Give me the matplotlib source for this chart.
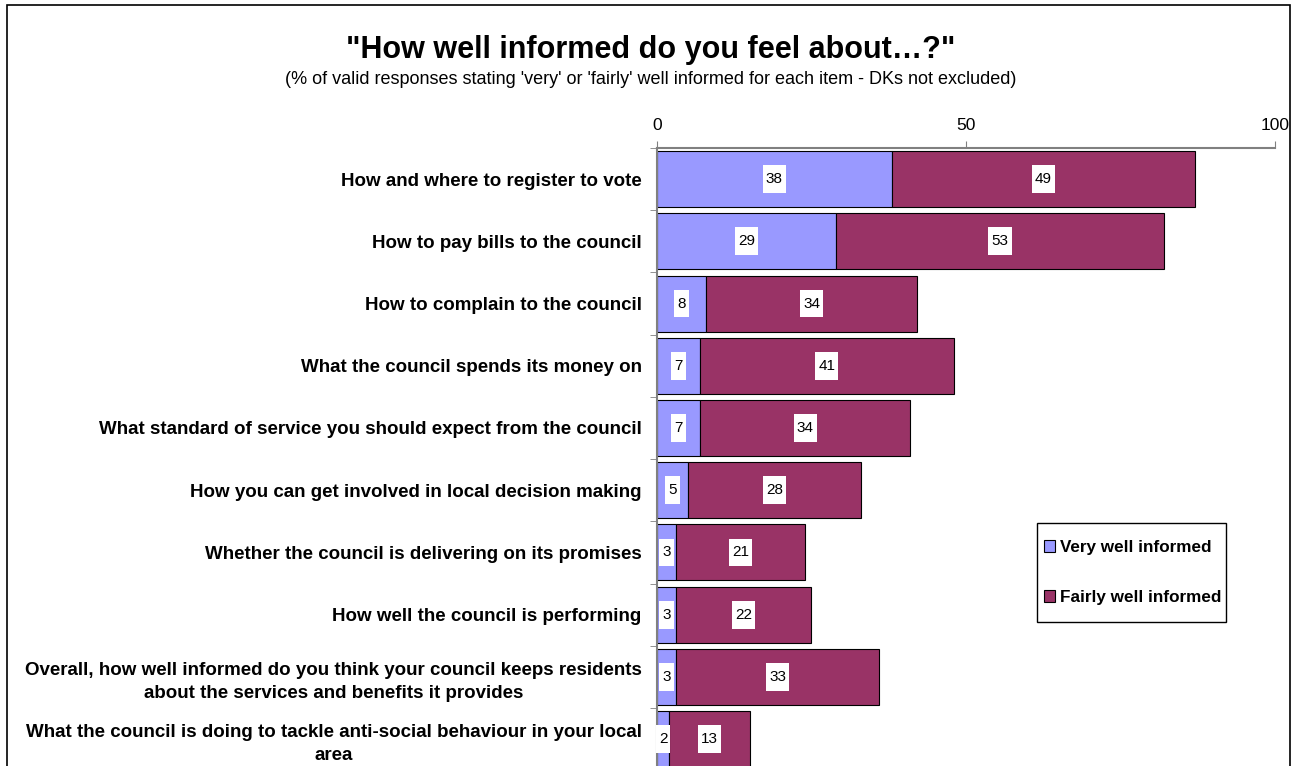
import matplotlib.pyplot as plt
from matplotlib.patches import Rectangle
from matplotlib.path import Path

plt.rcParams['font.family'] = ['Liberation Sans', 'DejaVu Sans']

# Survey items, top to bottom
items = [
    "How and where to register to vote",
    "How to pay bills to the council",
    "How to complain to the council",
    "What the council spends its money on",
    "What standard of service you should expect from the council",
    "How you can get involved in local decision making",
    "Whether the council is delivering on its promises",
    "How well the council is performing",
    "Overall, how well informed do you think your council keeps residents\nabout the services and benefits it provides",
    "What the council is doing to tackle anti-social behaviour in your local\narea",
]
very_well = [38, 29, 8, 7, 7, 5, 3, 3, 3, 2]
fairly_well = [49, 53, 34, 41, 34, 28, 21, 22, 33, 13]
x_ticks = [0, 50, 100]

c_very = '#9999FF'
c_fairly = '#993366'


def tall_box(x0, y0, width, height, mutation_size):
    # narrow sideways padding, tall vertical padding
    px = 0.2 * mutation_size
    py = 0.45 * mutation_size
    x0, y0 = x0 - px, y0 - py
    x1, y1 = x0 + width + 2 * px, y0 + height + 2 * py
    return Path([(x0, y0), (x1, y0), (x1, y1), (x0, y1), (x0, y0)], closed=True)


fig = plt.figure(figsize=(12.93, 7.66), dpi=100)
ax = fig.add_axes([0.5081, -0.0055, 0.478, 0.8123])

ypos = list(range(len(items)))
b1 = ax.barh(ypos, very_well, height=0.9, color=c_very, edgecolor='black',
             linewidth=0.8, label='Very well informed')
b2 = ax.barh(ypos, fairly_well, left=very_well, height=0.9, color=c_fairly,
             edgecolor='black', linewidth=0.8, label='Fairly well informed')

# value labels in white boxes
for vals, lefts in [(very_well, [0] * len(very_well)), (fairly_well, very_well)]:
    for y, v, l in zip(ypos, vals, lefts):
        ax.text(l + v / 2, y, str(v), ha='center', va='center', fontsize=11,
                bbox=dict(boxstyle=tall_box, facecolor='white', edgecolor='none'))

ax.set_xlim(0, 100)
ax.set_ylim(len(items) - 0.5, -0.5)
ax.xaxis.tick_top()
ax.set_xticks(x_ticks)
ax.tick_params(axis='x', labelsize=12.5, length=5, color='#808080', pad=6)
ax.set_yticks(ypos)
ax.set_yticklabels(items, fontsize=13.5, fontweight='bold',
                   multialignment='center', linespacing=1.45)
ax.tick_params(axis='y', length=0, pad=11)
# category separator ticks on the left spine
ax.set_yticks([i - 0.5 for i in range(len(items) + 1)], minor=True)
ax.tick_params(axis='y', which='minor', length=5, color='#808080')

for s in ['right', 'bottom']:
    ax.spines[s].set_visible(False)
ax.spines['top'].set_color('#808080')
ax.spines['top'].set_linewidth(1.5)
ax.spines['left'].set_color('#808080')
ax.spines['left'].set_linewidth(1.5)

fig.text(0.503, 0.935, '"How well informed do you feel about\u2026?"', ha='center',
         va='center', fontsize=22, fontweight='bold')
fig.text(0.503, 0.896, "(% of valid responses stating 'very' or 'fairly' well informed for each item - DKs not excluded)",
         ha='center', va='center', fontsize=13)

# legend box drawn separately so its padding can be set freely
fig.patches.append(Rectangle((1037 / 1293, 1 - 622 / 766), 189 / 1293, 99 / 766,
                             transform=fig.transFigure, facecolor='white',
                             edgecolor='black', linewidth=1, zorder=5))
leg = fig.legend(handles=[b1, b2], loc='center',
                 bbox_to_anchor=(1133 / 1293, 1 - 572.5 / 766),
                 prop={'weight': 'bold', 'size': 12.3}, frameon=False,
                 handlelength=0.65, handleheight=0.65, handletextpad=0.3,
                 labelspacing=2.05, borderpad=0, borderaxespad=0)
leg.set_zorder(6)

# outer chart border
fig.patches.append(Rectangle((7 / 1293, -0.1), 1283 / 1293, 1.1 - 5 / 766,
                             transform=fig.transFigure, fill=False,
                             edgecolor='black', linewidth=1.2))

fig.savefig('out.png', dpi=100)
